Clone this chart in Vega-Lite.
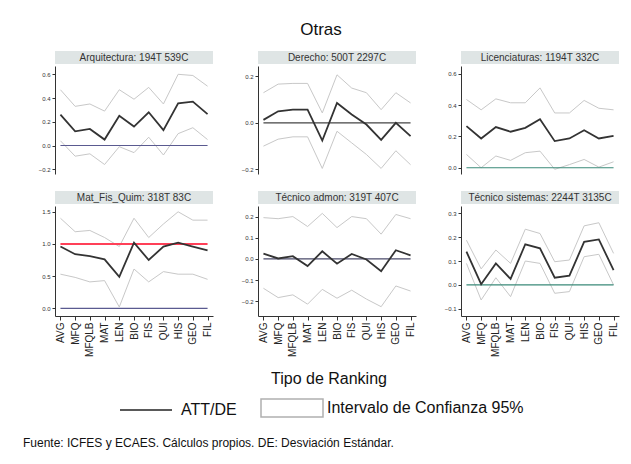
{
"$schema": "https://vega.github.io/schema/vega-lite/v6.json",
"background": "white",
"autosize": {"type": "pad"},
"padding": {"left": 23, "top": 21, "right": 12, "bottom": 8},
"config": {
  "font": "Liberation Sans",
  "view": {"stroke": null},
  "axis": {"grid": false, "title": null, "domainColor": "#333", "tickColor": "#333", "labelColor": "#333", "labelFont": "Liberation Sans"},
  "axisY": {"minExtent": 32, "maxExtent": 32, "labelFontSize": 6, "tickSize": 3, "labelPadding": 2, "format": ".1f", "labelOverlap": false, "labelFlush": false, "labelSeparation": 0, "labelBound": false, "tickCount": 12},
  "title": {"font": "Liberation Sans", "fontWeight": "normal", "color": "#111"}
},
"title": {"text": "Fuente: ICFES y ECAES. Cálculos propios. DE: Desviación Estándar.", "orient": "bottom", "anchor": "start", "frame": "bounds", "offset": 18, "fontSize": 12, "color": "#111"},
"datasets": {
 "d": [
  {"p":"A","c":"AVG","att":0.26,"lo":0.04,"hi":0.47},
  {"p":"A","c":"MFQ","att":0.12,"lo":-0.09,"hi":0.33},
  {"p":"A","c":"MFQLB","att":0.14,"lo":-0.07,"hi":0.35},
  {"p":"A","c":"MAT","att":0.05,"lo":-0.16,"hi":0.29},
  {"p":"A","c":"LEN","att":0.25,"lo":-0.01,"hi":0.47},
  {"p":"A","c":"BIO","att":0.16,"lo":-0.06,"hi":0.39},
  {"p":"A","c":"FIS","att":0.28,"lo":0.07,"hi":0.49},
  {"p":"A","c":"QUI","att":0.13,"lo":-0.08,"hi":0.35},
  {"p":"A","c":"HIS","att":0.355,"lo":0.10,"hi":0.60},
  {"p":"A","c":"GEO","att":0.37,"lo":0.15,"hi":0.59},
  {"p":"A","c":"FIL","att":0.265,"lo":0.05,"hi":0.50},
  {"p":"D","c":"AVG","att":0.013,"lo":-0.10,"hi":0.13},
  {"p":"D","c":"MFQ","att":0.05,"lo":-0.07,"hi":0.167},
  {"p":"D","c":"MFQLB","att":0.057,"lo":-0.06,"hi":0.17},
  {"p":"D","c":"MAT","att":0.057,"lo":-0.06,"hi":0.17},
  {"p":"D","c":"LEN","att":-0.076,"lo":-0.196,"hi":0.043},
  {"p":"D","c":"BIO","att":0.086,"lo":-0.036,"hi":0.207},
  {"p":"D","c":"FIS","att":0.036,"lo":-0.086,"hi":0.15},
  {"p":"D","c":"QUI","att":-0.007,"lo":-0.136,"hi":0.13},
  {"p":"D","c":"HIS","att":-0.073,"lo":-0.196,"hi":0.057},
  {"p":"D","c":"GEO","att":0.0,"lo":-0.12,"hi":0.13},
  {"p":"D","c":"FIL","att":-0.057,"lo":-0.18,"hi":0.086},
  {"p":"L","c":"AVG","att":0.266,"lo":0.085,"hi":0.436},
  {"p":"L","c":"MFQ","att":0.187,"lo":0.0,"hi":0.37},
  {"p":"L","c":"MFQLB","att":0.26,"lo":0.075,"hi":0.44},
  {"p":"L","c":"MAT","att":0.23,"lo":0.047,"hi":0.415},
  {"p":"L","c":"LEN","att":0.255,"lo":0.096,"hi":0.415},
  {"p":"L","c":"BIO","att":0.31,"lo":0.106,"hi":0.51},
  {"p":"L","c":"FIS","att":0.17,"lo":-0.01,"hi":0.35},
  {"p":"L","c":"QUI","att":0.187,"lo":0.02,"hi":0.35},
  {"p":"L","c":"HIS","att":0.24,"lo":0.053,"hi":0.43},
  {"p":"L","c":"GEO","att":0.187,"lo":0.004,"hi":0.38},
  {"p":"L","c":"FIL","att":0.204,"lo":0.038,"hi":0.37},
  {"p":"M","c":"AVG","att":0.96,"lo":0.53,"hi":1.40},
  {"p":"M","c":"MFQ","att":0.84,"lo":0.48,"hi":1.19},
  {"p":"M","c":"MFQLB","att":0.81,"lo":0.41,"hi":1.21},
  {"p":"M","c":"MAT","att":0.76,"lo":0.43,"hi":1.10},
  {"p":"M","c":"LEN","att":0.49,"lo":0.02,"hi":0.96},
  {"p":"M","c":"BIO","att":1.02,"lo":0.61,"hi":1.40},
  {"p":"M","c":"FIS","att":0.75,"lo":0.41,"hi":1.10},
  {"p":"M","c":"QUI","att":0.96,"lo":0.57,"hi":1.31},
  {"p":"M","c":"HIS","att":1.02,"lo":0.53,"hi":1.50},
  {"p":"M","c":"GEO","att":0.96,"lo":0.53,"hi":1.37},
  {"p":"M","c":"FIL","att":0.90,"lo":0.45,"hi":1.37},
  {"p":"T","c":"AVG","att":0.025,"lo":-0.139,"hi":0.195},
  {"p":"T","c":"MFQ","att":0.002,"lo":-0.183,"hi":0.19},
  {"p":"T","c":"MFQLB","att":0.013,"lo":-0.17,"hi":0.2},
  {"p":"T","c":"MAT","att":-0.034,"lo":-0.214,"hi":0.153},
  {"p":"T","c":"LEN","att":0.036,"lo":-0.144,"hi":0.215},
  {"p":"T","c":"BIO","att":-0.023,"lo":-0.186,"hi":0.148},
  {"p":"T","c":"FIS","att":0.023,"lo":-0.148,"hi":0.2},
  {"p":"T","c":"QUI","att":-0.003,"lo":-0.19,"hi":0.19},
  {"p":"T","c":"HIS","att":-0.058,"lo":-0.226,"hi":0.117},
  {"p":"T","c":"GEO","att":0.041,"lo":-0.128,"hi":0.21},
  {"p":"T","c":"FIL","att":0.017,"lo":-0.152,"hi":0.19},
  {"p":"S","c":"AVG","att":0.139,"lo":0.09,"hi":0.187},
  {"p":"S","c":"MFQ","att":0.003,"lo":-0.063,"hi":0.067},
  {"p":"S","c":"MFQLB","att":0.09,"lo":0.03,"hi":0.146},
  {"p":"S","c":"MAT","att":0.025,"lo":-0.049,"hi":0.09},
  {"p":"S","c":"LEN","att":0.17,"lo":0.10,"hi":0.233},
  {"p":"S","c":"BIO","att":0.153,"lo":0.09,"hi":0.215},
  {"p":"S","c":"FIS","att":0.03,"lo":-0.035,"hi":0.097},
  {"p":"S","c":"QUI","att":0.039,"lo":-0.028,"hi":0.104},
  {"p":"S","c":"HIS","att":0.18,"lo":0.118,"hi":0.247},
  {"p":"S","c":"GEO","att":0.19,"lo":0.128,"hi":0.26},
  {"p":"S","c":"FIL","att":0.062,"lo":0.0,"hi":0.132}
 ],
 "leg": [{"k": "ATT/DE"}, {"k": "Intervalo de Confianza 95%"}]
},
"spacing": 17,
"vconcat": [
 {
  "title": {"text": "Otras", "fontSize": 17, "anchor": "middle", "frame": "bounds", "offset": 12},
  "spacing": 13,
  "hconcat": [
   {"bounds": "flush", "spacing": 2, "vconcat": [
     {"width": 158, "height": 13, "view": {"fill": "#dfe5e5", "stroke": null}, "data": {"values": [{"t": "Arquitectura: 194T 539C"}]}, "mark": {"type": "text", "fontSize": 10, "color": "#333"}, "encoding": {"text": {"field": "t"}}},
     {"width": 158, "height": 108, "data": {"name": "d"}, "transform": [{"filter": "datum.p === 'A'"}],
      "encoding": {"x": {"field": "c", "type": "nominal", "scale": {"type": "point", "domain": ["AVG","MFQ","MFQLB","MAT","LEN","BIO","FIS","QUI","HIS","GEO","FIL"], "padding": 0.37}, "axis": null}},
      "layer": [
       {"mark": {"type": "line", "color": "#c8c8c8", "strokeWidth": 1}, "encoding": {"y": {"field": "hi", "type": "quantitative", "scale": {"domain": [-0.24, 0.67], "nice": false, "zero": false}, "axis": {"values": [-0.2, 0, 0.2, 0.4, 0.6], "tickCount": 12}}}},
       {"mark": {"type": "line", "color": "#c8c8c8", "strokeWidth": 1}, "encoding": {"y": {"field": "lo", "type": "quantitative"}}},
       {"data": {"values": [{}]}, "mark": {"type": "rule", "color": "#5a5a90", "strokeWidth": 1.2}, "encoding": {"x": {"datum": "AVG"}, "x2": {"datum": "FIL"}, "y": {"datum": 0}}},
       {"mark": {"type": "line", "color": "#333", "strokeWidth": 1.8}, "encoding": {"y": {"field": "att", "type": "quantitative"}}}
      ]}
   ]},
   {"bounds": "flush", "spacing": 2, "vconcat": [
     {"width": 158, "height": 13, "view": {"fill": "#dfe5e5", "stroke": null}, "data": {"values": [{"t": "Derecho: 500T 2297C"}]}, "mark": {"type": "text", "fontSize": 10, "color": "#333"}, "encoding": {"text": {"field": "t"}}},
     {"width": 158, "height": 108, "data": {"name": "d"}, "transform": [{"filter": "datum.p === 'D'"}],
      "encoding": {"x": {"field": "c", "type": "nominal", "scale": {"type": "point", "domain": ["AVG","MFQ","MFQLB","MAT","LEN","BIO","FIS","QUI","HIS","GEO","FIL"], "padding": 0.37}, "axis": null}},
      "layer": [
       {"mark": {"type": "line", "color": "#c8c8c8", "strokeWidth": 1}, "encoding": {"y": {"field": "hi", "type": "quantitative", "scale": {"domain": [-0.22, 0.245], "nice": false, "zero": false}, "axis": {"values": [-0.2, 0, 0.2], "tickCount": 12}}}},
       {"mark": {"type": "line", "color": "#c8c8c8", "strokeWidth": 1}, "encoding": {"y": {"field": "lo", "type": "quantitative"}}},
       {"data": {"values": [{}]}, "mark": {"type": "rule", "color": "#444444", "strokeWidth": 1.2}, "encoding": {"x": {"datum": "AVG"}, "x2": {"datum": "FIL"}, "y": {"datum": 0}}},
       {"mark": {"type": "line", "color": "#333", "strokeWidth": 1.8}, "encoding": {"y": {"field": "att", "type": "quantitative"}}}
      ]}
   ]},
   {"bounds": "flush", "spacing": 2, "vconcat": [
     {"width": 158, "height": 13, "view": {"fill": "#dfe5e5", "stroke": null}, "data": {"values": [{"t": "Licenciaturas: 1194T 332C"}]}, "mark": {"type": "text", "fontSize": 10, "color": "#333"}, "encoding": {"text": {"field": "t"}}},
     {"width": 158, "height": 108, "data": {"name": "d"}, "transform": [{"filter": "datum.p === 'L'"}],
      "encoding": {"x": {"field": "c", "type": "nominal", "scale": {"type": "point", "domain": ["AVG","MFQ","MFQLB","MAT","LEN","BIO","FIS","QUI","HIS","GEO","FIL"], "padding": 0.37}, "axis": null}},
      "layer": [
       {"mark": {"type": "line", "color": "#c8c8c8", "strokeWidth": 1}, "encoding": {"y": {"field": "hi", "type": "quantitative", "scale": {"domain": [-0.04, 0.65], "nice": false, "zero": false}, "axis": {"values": [0, 0.2, 0.4, 0.6], "tickCount": 12}}}},
       {"mark": {"type": "line", "color": "#c8c8c8", "strokeWidth": 1}, "encoding": {"y": {"field": "lo", "type": "quantitative"}}},
       {"data": {"values": [{}]}, "mark": {"type": "rule", "color": "#3a8a78", "strokeWidth": 1.2}, "encoding": {"x": {"datum": "AVG"}, "x2": {"datum": "FIL"}, "y": {"datum": 0}}},
       {"mark": {"type": "line", "color": "#333", "strokeWidth": 1.8}, "encoding": {"y": {"field": "att", "type": "quantitative"}}}
      ]}
   ]}
  ]
 },
 {
  "spacing": 13,
  "hconcat": [
   {"bounds": "flush", "spacing": 2, "vconcat": [
     {"width": 158, "height": 13, "view": {"fill": "#dfe5e5", "stroke": null}, "data": {"values": [{"t": "Mat_Fis_Quim: 318T 83C"}]}, "mark": {"type": "text", "fontSize": 10, "color": "#333"}, "encoding": {"text": {"field": "t"}}},
     {"width": 158, "height": 110, "data": {"name": "d"}, "transform": [{"filter": "datum.p === 'M'"}],
      "encoding": {"x": {"field": "c", "type": "nominal", "scale": {"type": "point", "domain": ["AVG","MFQ","MFQLB","MAT","LEN","BIO","FIS","QUI","HIS","GEO","FIL"], "padding": 0.37}, "axis": {"labelAngle": -90, "labelFontSize": 10, "tickSize": 4, "labelPadding": 2, "labelColor": "#222"}}},
      "layer": [
       {"mark": {"type": "line", "color": "#c8c8c8", "strokeWidth": 1}, "encoding": {"y": {"field": "hi", "type": "quantitative", "scale": {"domain": [-0.12, 1.59], "nice": false, "zero": false}, "axis": {"values": [0, 0.5, 1, 1.5], "tickCount": 12}}}},
       {"mark": {"type": "line", "color": "#c8c8c8", "strokeWidth": 1}, "encoding": {"y": {"field": "lo", "type": "quantitative"}}},
       {"data": {"values": [{}]}, "mark": {"type": "rule", "color": "#5a5a90", "strokeWidth": 1.2}, "encoding": {"x": {"datum": "AVG"}, "x2": {"datum": "FIL"}, "y": {"datum": 0}}},
       {"data": {"values": [{}]}, "mark": {"type": "rule", "color": "#ff4058", "strokeWidth": 2}, "encoding": {"x": {"datum": "AVG"}, "x2": {"datum": "FIL"}, "y": {"datum": 1}}},
       {"mark": {"type": "line", "color": "#333", "strokeWidth": 1.8}, "encoding": {"y": {"field": "att", "type": "quantitative"}}}
      ]}
   ]},
   {"bounds": "flush", "spacing": 2, "vconcat": [
     {"width": 158, "height": 13, "view": {"fill": "#dfe5e5", "stroke": null}, "data": {"values": [{"t": "Técnico admon: 319T 407C"}]}, "mark": {"type": "text", "fontSize": 10, "color": "#333"}, "encoding": {"text": {"field": "t"}}},
     {"width": 158, "height": 110, "data": {"name": "d"}, "transform": [{"filter": "datum.p === 'T'"}],
      "encoding": {"x": {"field": "c", "type": "nominal", "scale": {"type": "point", "domain": ["AVG","MFQ","MFQLB","MAT","LEN","BIO","FIS","QUI","HIS","GEO","FIL"], "padding": 0.37}, "axis": {"labelAngle": -90, "labelFontSize": 10, "tickSize": 4, "labelPadding": 2, "labelColor": "#222"}}},
      "layer": [
       {"mark": {"type": "line", "color": "#c8c8c8", "strokeWidth": 1}, "encoding": {"y": {"field": "hi", "type": "quantitative", "scale": {"domain": [-0.27, 0.25], "nice": false, "zero": false}, "axis": {"values": [-0.2, -0.1, 0, 0.1, 0.2], "tickCount": 12}}}},
       {"mark": {"type": "line", "color": "#c8c8c8", "strokeWidth": 1}, "encoding": {"y": {"field": "lo", "type": "quantitative"}}},
       {"data": {"values": [{}]}, "mark": {"type": "rule", "color": "#4a4a6a", "strokeWidth": 1.2}, "encoding": {"x": {"datum": "AVG"}, "x2": {"datum": "FIL"}, "y": {"datum": 0}}},
       {"mark": {"type": "line", "color": "#333", "strokeWidth": 1.8}, "encoding": {"y": {"field": "att", "type": "quantitative"}}},
       {"data": {"name": "leg"}, "mark": {"type": "point", "opacity": 0, "filled": false},
        "encoding": {
         "x": {"datum": "AVG"}, "y": {"datum": 0},
         "shape": {"field": "k", "type": "nominal", "scale": {"domain": ["ATT/DE", "Intervalo de Confianza 95%"], "range": ["M-2.6,0H2.6", "M-3.1,-0.9H3.1V0.9H-3.1Z"]},
           "legend": {"title": "Tipo de Ranking", "orient": "none", "legendX": 80, "legendY": 320, "direction": "horizontal", "titleOrient": "top", "titleAnchor": "middle", "titleFontSize": 16, "titleFontWeight": "normal", "titleColor": "#111", "titlePadding": 10, "labelFontSize": 16, "labelColor": "#111", "labelLimit": 400, "symbolSize": 400, "symbolStrokeWidth": 1.5, "labelOffset": 24, "columnPadding": 21, "padding": 0}},
         "color": {"field": "k", "type": "nominal", "scale": {"domain": ["ATT/DE", "Intervalo de Confianza 95%"], "range": ["#222222", "#b0b0b0"]},
           "legend": {"title": "Tipo de Ranking", "orient": "none", "legendX": 80, "legendY": 320, "direction": "horizontal", "titleOrient": "top", "titleAnchor": "middle", "titleFontSize": 16, "titleFontWeight": "normal", "titleColor": "#111", "titlePadding": 10, "labelFontSize": 16, "labelColor": "#111", "labelLimit": 400, "symbolSize": 400, "symbolStrokeWidth": 1.5, "labelOffset": 24, "columnPadding": 21, "padding": 0}}
        }}
      ]}
   ]},
   {"bounds": "flush", "spacing": 2, "vconcat": [
     {"width": 158, "height": 13, "view": {"fill": "#dfe5e5", "stroke": null}, "data": {"values": [{"t": "Técnico sistemas: 2244T 3135C"}]}, "mark": {"type": "text", "fontSize": 10, "color": "#333"}, "encoding": {"text": {"field": "t"}}},
     {"width": 158, "height": 110, "data": {"name": "d"}, "transform": [{"filter": "datum.p === 'S'"}],
      "encoding": {"x": {"field": "c", "type": "nominal", "scale": {"type": "point", "domain": ["AVG","MFQ","MFQLB","MAT","LEN","BIO","FIS","QUI","HIS","GEO","FIL"], "padding": 0.37}, "axis": {"labelAngle": -90, "labelFontSize": 10, "tickSize": 4, "labelPadding": 2, "labelColor": "#222"}}},
      "layer": [
       {"mark": {"type": "line", "color": "#c8c8c8", "strokeWidth": 1}, "encoding": {"y": {"field": "hi", "type": "quantitative", "scale": {"domain": [-0.13, 0.33], "nice": false, "zero": false}, "axis": {"values": [-0.1, 0, 0.1, 0.2, 0.3], "tickCount": 12}}}},
       {"mark": {"type": "line", "color": "#c8c8c8", "strokeWidth": 1}, "encoding": {"y": {"field": "lo", "type": "quantitative"}}},
       {"data": {"values": [{}]}, "mark": {"type": "rule", "color": "#3a8a78", "strokeWidth": 1.2}, "encoding": {"x": {"datum": "AVG"}, "x2": {"datum": "FIL"}, "y": {"datum": 0}}},
       {"mark": {"type": "line", "color": "#333", "strokeWidth": 1.8}, "encoding": {"y": {"field": "att", "type": "quantitative"}}}
      ]}
   ]}
  ]
 }
]
}
